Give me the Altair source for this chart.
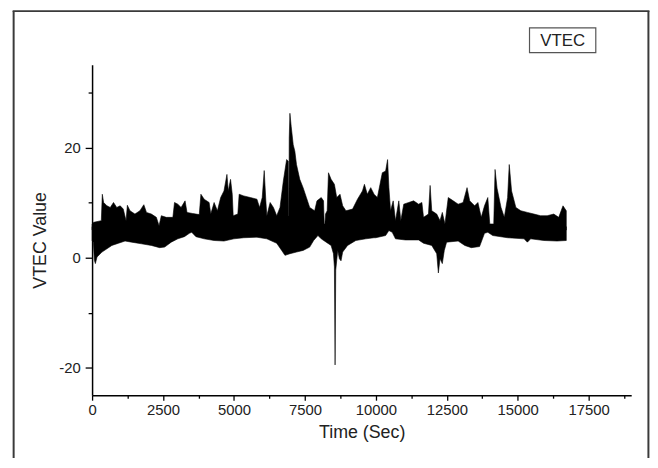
import altair as alt
import pandas as pd

# Upper envelope of the VTEC trace (time in s, value)
hi_t = [0, 58, 325, 360, 407, 523, 640, 755, 870, 990, 1100, 1197, 1243, 1336, 1510, 1685,
        1824, 1917, 2090, 2265, 2360, 2440, 2615, 2847, 2905, 3020, 3137, 3277, 3346, 3544,
        3777, 3835, 3950, 4125, 4183, 4300, 4416, 4532, 4648, 4753, 4800, 4880, 4940, 4973,
        5136, 5183, 5345, 5578, 5810, 5903, 5996, 6066, 6124, 6159, 6275, 6391, 6507, 6623,
        6740, 6856, 6914, 6925, 6937, 6948, 6972, 7018, 7088, 7146, 7204, 7320, 7437, 7553,
        7669, 7844, 7925, 8076, 8157, 8180, 8204, 8227, 8285, 8331, 8424, 8540, 8622, 8738,
        8831, 8947, 9180, 9354, 9528, 9598, 9700, 9820, 9938, 10054, 10147, 10228, 10345,
        10414, 10461, 10519, 10612, 10693, 10810, 10880, 10984, 11158, 11332, 11507, 11623,
        11681, 11855, 11913, 11971, 12146, 12262, 12343, 12436, 12552, 12727, 12901, 13075,
        13215, 13308, 13482, 13598, 13715, 13830, 13946, 14016, 14156, 14202, 14272, 14412,
        14528, 14644, 14702, 14784, 14935, 15109, 15341, 15574, 15806, 16039, 16271, 16445,
        16596, 16712]
hi_v = [6.1, 6.4, 6.7, 11.5, 10.0, 9.4, 9.1, 10.0, 9.1, 9.4, 8.8, 6.7, 9.5, 8.5, 7.9, 8.5,
        9.6, 8.2, 7.9, 7.3, 5.8, 7.6, 7.3, 7.3, 10.0, 9.7, 9.1, 10.3, 8.2, 8.0,
        7.8, 11.5, 10.6, 10.0, 7.9, 10.0, 8.5, 10.9, 12.1, 15.1, 12.1, 14.2, 11.5, 7.6,
        7.9, 11.5, 11.2, 10.9, 10.6, 9.1, 10.9, 15.8, 10.3, 7.6, 10.0, 9.1, 7.6, 9.1,
        13.9, 17.8, 17.5, 7.6, 7.6, 21.7, 26.2, 23.8, 20.5, 19.3, 16.9, 14.2, 12.7, 10.9,
        9.1, 8.5, 10.3, 10.9, 10.3, 6.1, 6.1, 7.9, 8.5, 15.4, 14.2, 13.3, 10.9, 11.5,
        9.4, 8.5, 8.8, 10.6, 12.1, 13.3, 11.5, 12.7, 11.5, 10.9, 13.3, 15.4, 15.7,
        17.8, 12.7, 8.5, 10.3, 6.7, 10.3, 6.7, 9.7, 10.0, 10.3, 9.7, 10.0,
        7.3, 7.9, 13.1, 8.5, 7.9, 6.7, 8.2, 6.1, 10.9, 10.3, 9.7, 10.0,
        12.7, 10.3, 9.4, 10.0, 7.3, 9.4, 10.9, 6.1, 6.1, 16.0, 12.6, 9.1,
        7.3, 10.9, 16.9, 12.1, 9.1, 8.5, 8.2, 7.9, 7.6, 7.6, 7.9, 7.3,
        9.4, 8.5]

# Lower envelope of the VTEC trace
lo_t = [0, 46, 81, 116, 174, 349, 523, 697, 930, 1162, 1394, 1743, 2090, 2382, 2556, 2789,
        3021, 3254, 3428, 3510, 3660, 3951, 4300, 4648, 4997, 5345, 5810, 6159, 6507, 6682,
        6798, 6972, 7204, 7437, 7669, 7808, 7960, 8076, 8250, 8424, 8506, 8540, 8564, 8587,
        8657, 8715, 8773, 8831, 9005, 9296, 9645, 9935, 9996, 10345, 10461, 10577, 10693,
        11042, 11507, 11681, 11971, 12146, 12204, 12262, 12343, 12413, 12494, 12901, 13134,
        13366, 13656, 13830, 13946, 14121, 14644, 15225, 15341, 15457, 15922, 16387, 16712]
lo_v = [3.1, 2.8, -0.5, -1.1, 0.1, 1.0, 1.6, 2.2, 2.6, 3.0, 2.8, 2.5, 2.2, 1.8, 1.9, 2.8,
        3.4, 3.8, 4.4, 4.6, 3.8, 3.4, 3.1, 3.0, 3.4, 3.6, 3.7, 3.4, 2.6, 1.3,
        0.4, 0.7, 1.0, 1.3, 1.9, 3.1, 4.0, 3.4, 2.8, 2.2, 0.7, -1.7, -19.5, -2.3,
        1.3, -0.2, -0.6, 1.0, 2.2, 3.1, 3.4, 3.6, 3.6, 4.0, 4.9, 4.6, 3.4,
        3.2, 3.2, 2.6, 2.2, 0.7, -2.8, -0.2, -1.1, 1.3, 2.8, 3.0, 2.2,
        1.8, 2.0, 4.4, 4.6, 4.0, 3.6, 3.4, 2.8, 3.4, 3.1, 3.0, 3.1]

x_ticks = list(range(0, 19000, 1250))
y_ticks = [-20, -10, 0, 10, 20, 30]

W, H = 545, 334
FONT = "Liberation Sans"

upper = pd.DataFrame({"t": hi_t, "v": hi_v})
lower = pd.DataFrame({"t": lo_t, "v": lo_v})

xscale = alt.Scale(domain=[0, 19000], nice=False, zero=False)
yscale = alt.Scale(domain=[-25, 35], nice=False, zero=False)

xaxis = alt.Axis(
    title="Time (Sec)", values=x_ticks, format="d",
    labelExpr="datum.value % 2500 === 0 ? datum.label : ''",
    tickSize={"condition": {"test": "datum.value % 2500 === 0", "value": 5}, "value": 3},
    labelFlush=False, labelOverlap=False, grid=False,
    domainColor="black", domainWidth=1.5, tickColor="black", tickWidth=1.3,
    labelFont=FONT, labelFontSize=15, labelColor="#222", labelPadding=2,
    titleFont=FONT, titleFontSize=18, titleFontWeight="normal", titleColor="#222",
    titlePadding=7,
)
yaxis = alt.Axis(
    title="VTEC Value", values=y_ticks,
    labelExpr="datum.value % 20 === 0 ? '' + datum.value : ''",
    tickSize={"condition": {"test": "datum.value % 20 === 0", "value": 7}, "value": 4},
    labelOverlap=False, grid=False, labelFlush=False,
    domainColor="black", domainWidth=1.5, tickColor="black", tickWidth=1.3,
    labelFont=FONT, labelFontSize=15, labelColor="#222", labelPadding=5,
    titleFont=FONT, titleFontSize=18, titleFontWeight="normal", titleColor="#222",
    titlePadding=9, titleY=177,
)

up = alt.Chart(upper).mark_area(color="black", stroke="black", strokeWidth=0.6).encode(
    x=alt.X("t:Q", scale=xscale, axis=xaxis),
    y=alt.Y("v:Q", scale=yscale, axis=yaxis),
    y2=alt.datum(5.0),
)
low = alt.Chart(lower).mark_area(color="black", stroke="black", strokeWidth=0.6).encode(
    x=alt.X("t:Q", scale=xscale, axis=xaxis),
    y=alt.Y("v:Q", scale=yscale, axis=yaxis),
    y2=alt.datum(5.6),
)

one = pd.DataFrame({"a": [0]})
FRAME = "#3a3a3a"
left_line = alt.Chart(one).mark_rule(color=FRAME, strokeWidth=2).encode(
    x=alt.value(-79.3), y=alt.value(-54.3), y2=alt.value(400))
right_line = alt.Chart(one).mark_rule(color=FRAME, strokeWidth=2).encode(
    x=alt.value(562.4), y=alt.value(-54.3), y2=alt.value(400))
top_line = alt.Chart(one).mark_rule(color=FRAME, strokeWidth=2).encode(
    x=alt.value(-80.3), x2=alt.value(563.4), y=alt.value(-54.3))

legend_box = alt.Chart(one).mark_rect(fill="white", stroke="#555", strokeWidth=1.2).encode(
    x=alt.value(442.2), x2=alt.value(509.2), y=alt.value(-37.3), y2=alt.value(-12.3))
legend_text = alt.Chart(one).mark_text(font=FONT, fontSize=17, color="#222",
                                       align="center", baseline="middle").encode(
    x=alt.value(475.7), y=alt.value(-24.4), text=alt.value("VTEC"))

chart = alt.layer(up, low, left_line, right_line, top_line, legend_box, legend_text).properties(
    width=W, height=H,
    padding={"left": 85, "top": 55, "right": 19, "bottom": 61},
    autosize=alt.AutoSizeParams(type="none"),
    background="white",
).configure_view(stroke="transparent")

chart.save("out.html", embed_options={"renderer": "svg", "actions": False})
